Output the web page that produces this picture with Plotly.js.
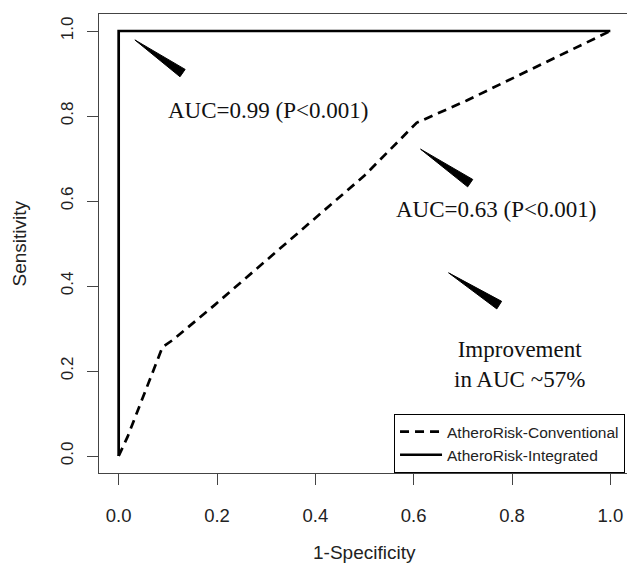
<!DOCTYPE html>
<html>
<head>
<meta charset="utf-8">
<script src="https://cdn.plot.ly/plotly-3.0.1.min.js"></script>
<style>
html,body{margin:0;padding:0;overflow:hidden;background:#fff;}
#chart{width:630px;height:565px;}
</style>
</head>
<body>
<div id="chart"></div>
<script>
// ROC curve data (1-Specificity, Sensitivity)
const convX = [0, 0.018, 0.089, 0.11, 0.195, 0.368, 0.5, 0.606, 0.707, 1.0];
const convY = [0, 0.045, 0.256, 0.273, 0.355, 0.527, 0.66, 0.784, 0.836, 1.0];
const integX = [0, 0, 1.0];
const integY = [0, 1.0, 1.0];

const seriesNames = ["AtheroRisk-Conventional", "AtheroRisk-Integrated"];
const tickVals = [0, 0.2, 0.4, 0.6, 0.8, 1.0];
const tickText = ["0.0", "0.2", "0.4", "0.6", "0.8", "1.0"];
const xTitle = "1-Specificity";
const yTitle = "Sensitivity";

// annotation texts and their anchor points (data units)
const labelTexts = ["AUC=0.99 (P<0.001)", "AUC=0.63 (P<0.001)", "Improvement<br>in AUC ~57%"];
const labelX = [0.303, 0.768, 0.815];
const labelY = [0.814, 0.579, 0.216];

// pointer wedges: thin tip -> wide tail (data units)
const wedgeTipX = [0.033, 0.614, 0.671];
const wedgeTipY = [0.979, 0.722, 0.431];
const wedgeEndX = [0.130, 0.715, 0.774];
const wedgeEndY = [0.901, 0.642, 0.355];

const W = 630, H = 565;
const M = {l: 99, r: 0, t: 14, b: 92};
const RANGE = [-0.04, 1.04];
const pxX = (W - M.l - M.r) / (RANGE[1] - RANGE[0]);
const pxY = (H - M.t - M.b) / (RANGE[1] - RANGE[0]);

function wedge(tx, ty, ex, ey, halfPx) {
  const dx = (ex - tx) * pxX, dy = (ey - ty) * pxY;
  const len = Math.sqrt(dx * dx + dy * dy);
  const nx = -dy / len * halfPx, ny = dx / len * halfPx;
  return {
    x: [tx, ex + nx / pxX, ex - nx / pxX, tx],
    y: [ty, ey + ny / pxY, ey - ny / pxY, ty]
  };
}

const traces = [
  {x: convX, y: convY, type: 'scatter', mode: 'lines', name: seriesNames[0],
   line: {color: '#000', width: 2.7, dash: '9px,6px'}},
  {x: integX, y: integY, type: 'scatter', mode: 'lines', name: seriesNames[1],
   line: {color: '#000', width: 2.7}}
];
for (let i = 0; i < wedgeTipX.length; i++) {
  const w = wedge(wedgeTipX[i], wedgeTipY[i], wedgeEndX[i], wedgeEndY[i], 4.5);
  traces.push({x: w.x, y: w.y, type: 'scatter', mode: 'lines', fill: 'toself',
    fillcolor: '#000', line: {color: '#000', width: 1}, showlegend: false, hoverinfo: 'skip'});
}

const annotations = labelTexts.map((t, i) => ({
  x: labelX[i], y: labelY[i], xref: 'x', yref: 'y', text: t, showarrow: false,
  xanchor: 'center', yanchor: 'middle',
  font: {family: 'Liberation Serif, Times New Roman, serif', size: 23, color: '#111'}
}));
// axis titles placed like R's mtext lines
annotations.push({
  x: 0.5, y: 0, xref: 'paper', yref: 'paper', text: xTitle, showarrow: false,
  xanchor: 'center', yanchor: 'middle', yshift: -79,
  font: {family: 'Liberation Sans, Arial, sans-serif', size: 19, color: '#222'}
});
annotations.push({
  x: 0, y: 0.5, xref: 'paper', yref: 'paper', text: yTitle, showarrow: false,
  xanchor: 'center', yanchor: 'middle', xshift: -80, textangle: -90,
  font: {family: 'Liberation Sans, Arial, sans-serif', size: 19, color: '#222'}
});

const axisCommon = {
  range: RANGE, tickvals: tickVals, ticktext: tickText,
  showline: true, mirror: true, linecolor: '#444', linewidth: 1,
  ticks: 'outside', ticklen: 11, tickcolor: '#444', tickwidth: 1,
  showgrid: false, zeroline: false, automargin: false
};

const layout = {
  width: W, height: H,
  margin: M,
  paper_bgcolor: '#fff', plot_bgcolor: '#fff',
  font: {family: 'Liberation Sans, Arial, sans-serif', color: '#222'},
  xaxis: Object.assign({}, axisCommon, {
    tickfont: {size: 18.5, color: '#222'},
    ticklabelstandoff: 15
  }),
  yaxis: Object.assign({}, axisCommon, {
    tickfont: {size: 17, color: '#222'},
    tickangle: -90,
    ticklabelstandoff: 7
  }),
  legend: {
    x: 0.5556, xanchor: 'left', y: 0, yanchor: 'bottom',
    bordercolor: '#000', borderwidth: 1, bgcolor: '#fff',
    font: {size: 15.5, color: '#222'}, tracegroupgap: 0, itemwidth: 42
  },
  annotations: annotations,
  showlegend: true
};

Plotly.newPlot('chart', traces, layout, {staticPlot: true, displayModeBar: false});
</script>
</body>
</html>
